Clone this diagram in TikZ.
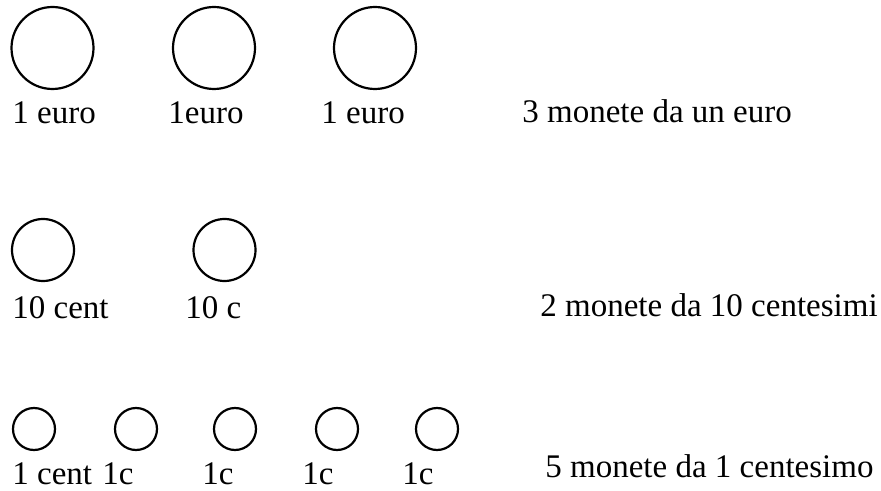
\documentclass[tikz,border=0pt]{standalone}
\usepackage{fontspec}
\setmainfont{Liberation Serif}
\usetikzlibrary{positioning}

\begin{document}
\begin{tikzpicture}[x=0.5pt, y=-0.5pt,
  coin/.style={draw, circle, line width=1.1pt, inner sep=0pt},
  euro/.style={coin, minimum size=41pt},
  dieci/.style={coin, minimum size=31pt},
  cent/.style={coin, minimum size=21pt},
  lbl/.style={anchor=base west, inner sep=0pt, font=\fontsize{16.5}{19}\selectfont},
]
\useasboundingbox (0,0) rectangle (881,491);

% --- Row 1: one euro coins ---
\node[euro] (e1) at (52.5,48) {};
\node[euro] (e2) at (214,48) {};
\node[euro] (e3) at (375,48) {};
\node[lbl] (le1) at (12,124) {1 euro};
\node[lbl] (le2) at (168,124) {1euro};
\node[lbl] (le3) at (321,124) {1 euro};
\node[lbl] (se) at (522,123) {3 monete da un euro};

% --- Row 2: ten cent coins ---
\node[dieci] (d1) at (43,250) {};
\node[dieci] (d2) at (224.5,250) {};
\node[lbl] (ld1) at (12,318) {10 cent};
\node[lbl] (ld2) at (185,318) {10 c};
\node[lbl] (sd) at (540,316) {2 monete da 10 centesimi};

% --- Row 3: one cent coins ---
\node[cent] (c1) at (34,429) {};
\node[cent] (c2) at (136,429) {};
\node[cent] (c3) at (235,429) {};
\node[cent] (c4) at (337,429) {};
\node[cent] (c5) at (437,429) {};
\node[lbl] (lc1) at (12,484) {1 cent};
\node[lbl] (lc2) at (102,484) {1c};
\node[lbl] (lc3) at (202,484) {1c};
\node[lbl] (lc4) at (302,484) {1c};
\node[lbl] (lc5) at (402,484) {1c};
\node[lbl] (sc) at (545,477) {5 monete da 1 centesimo};
\end{tikzpicture}
\end{document}
